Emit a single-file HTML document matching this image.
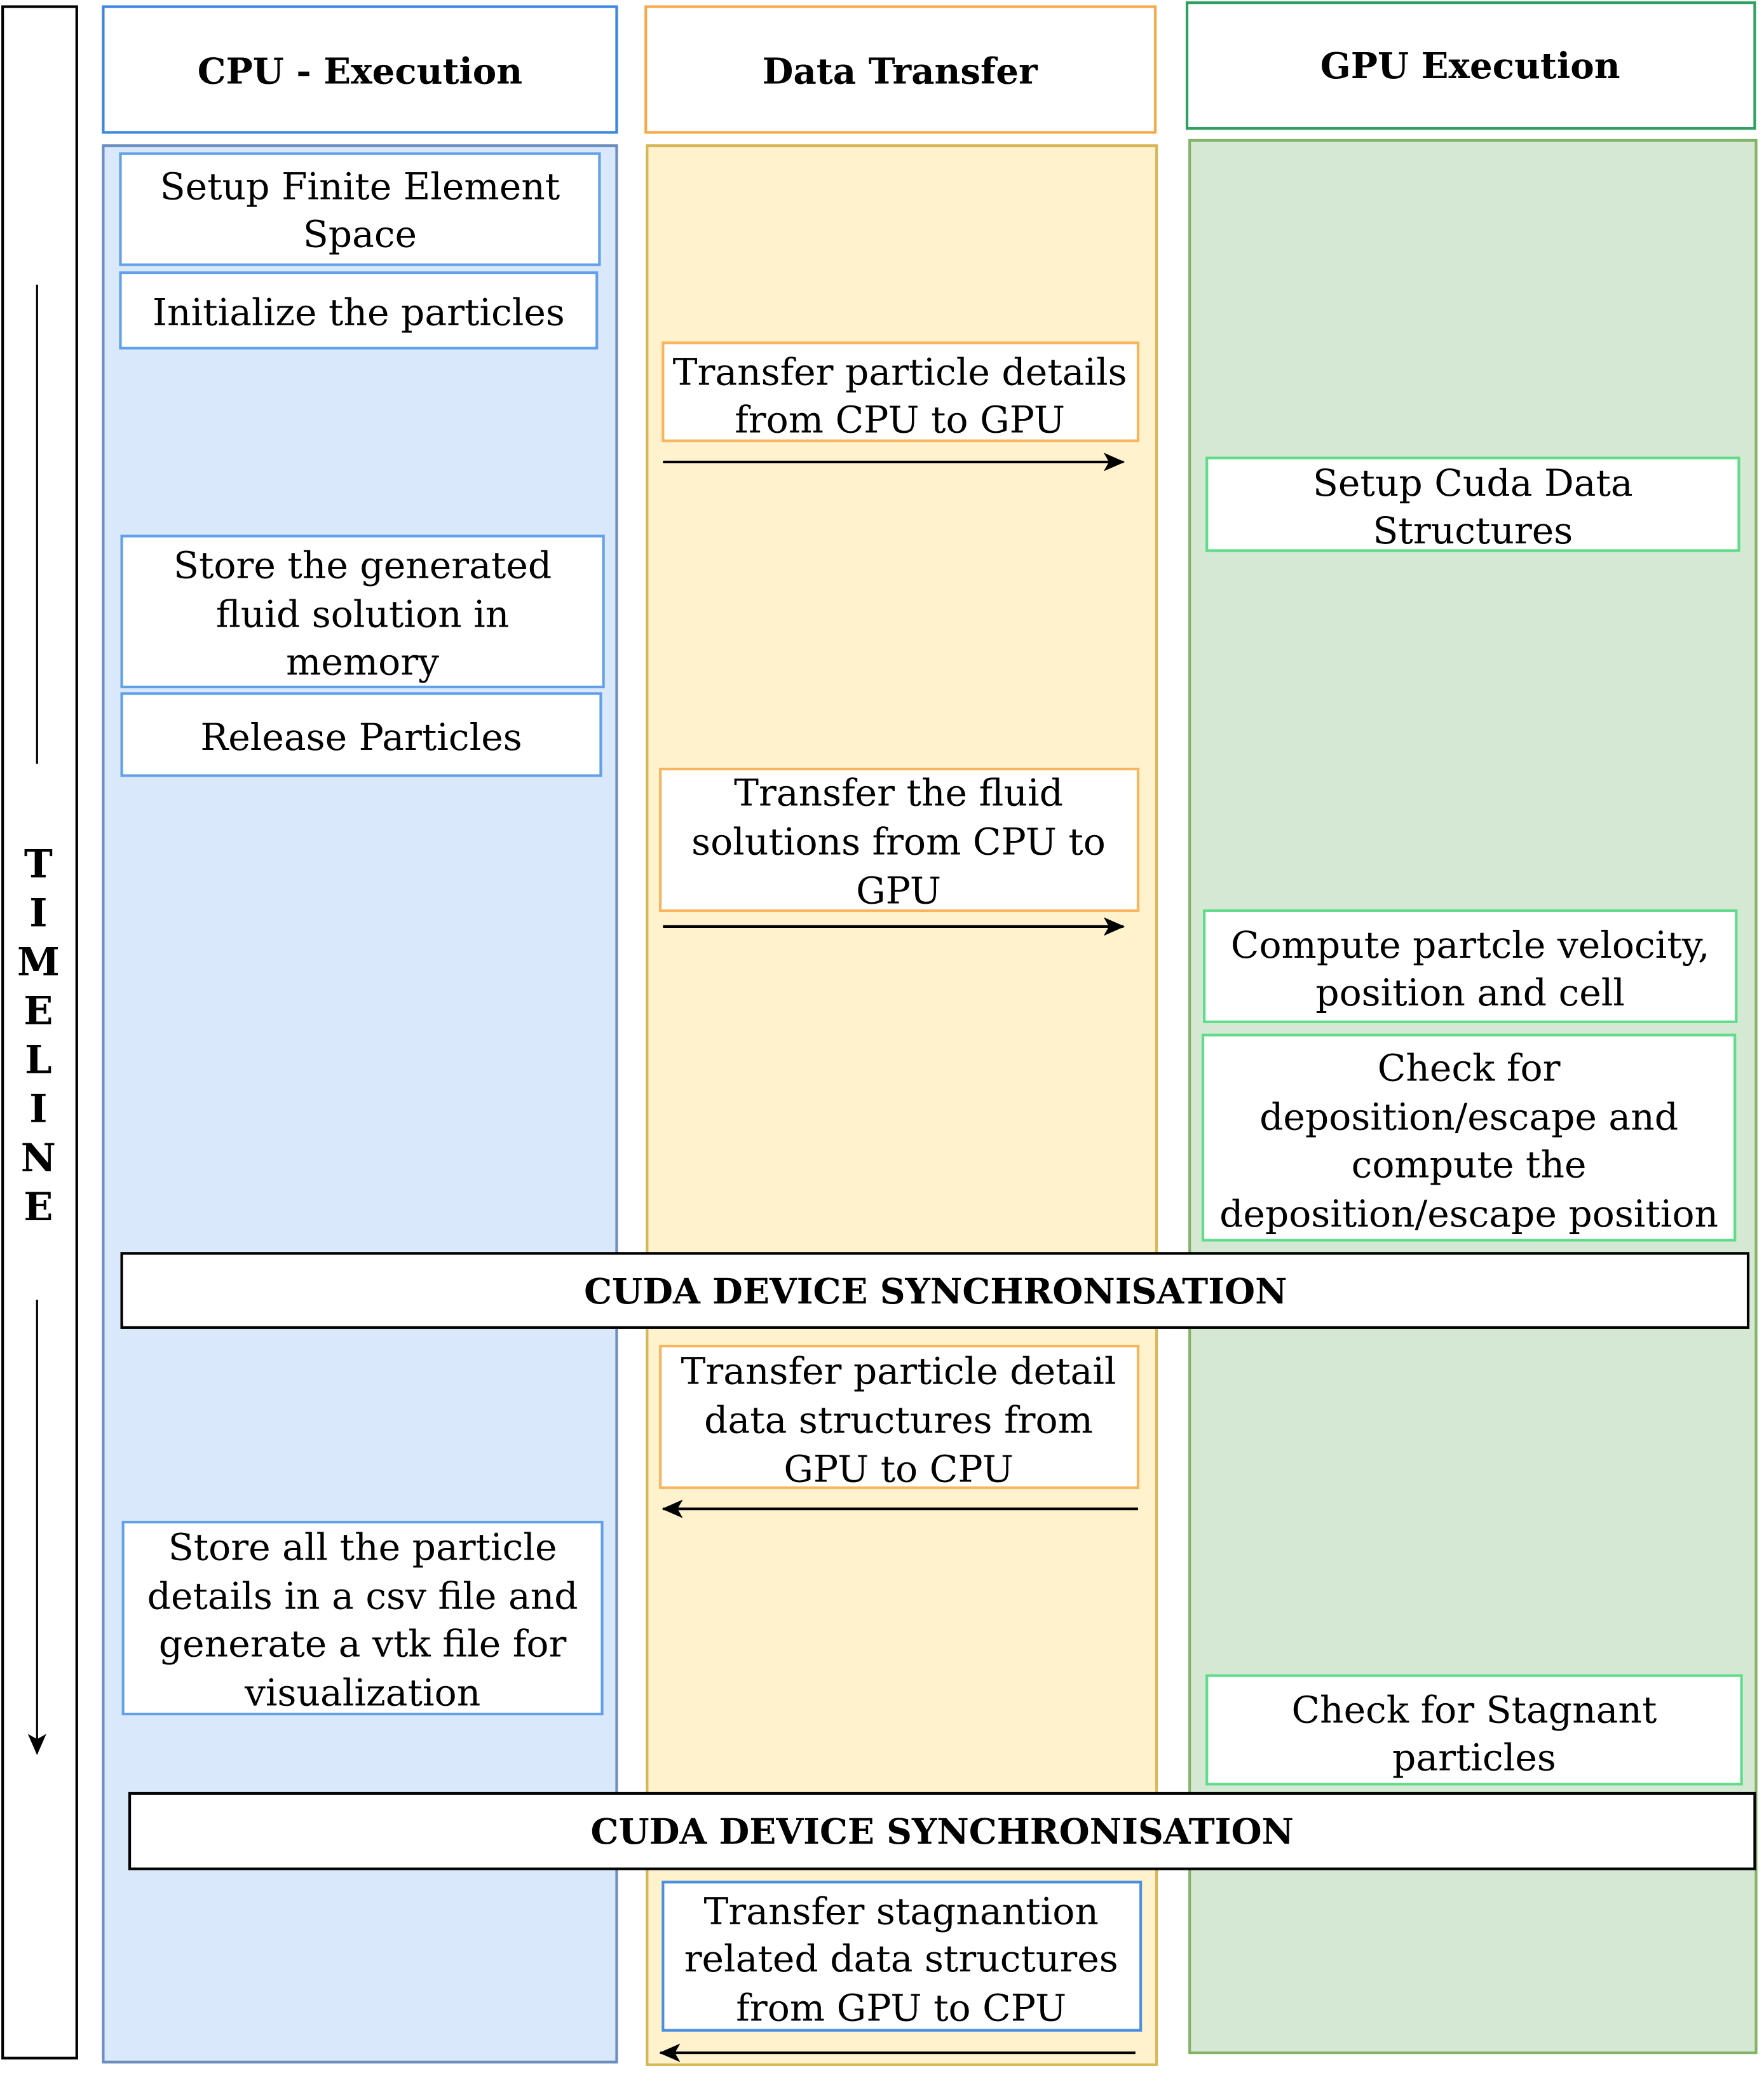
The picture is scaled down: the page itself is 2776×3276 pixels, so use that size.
<!DOCTYPE html>
<html><head><meta charset="utf-8">
<style>
html,body{margin:0;padding:0;background:#fff;}
svg{display:block;}
text{font-family:"DejaVu Serif","Liberation Serif",serif;fill:#000;}
.t{font-size:28px;text-anchor:middle;dominant-baseline:central;}
.h{font-size:27px;font-weight:bold;text-anchor:middle;dominant-baseline:central;}
.s{font-size:26.5px;font-weight:bold;text-anchor:middle;dominant-baseline:central;}
.tl{font-size:29px;font-weight:bold;text-anchor:middle;dominant-baseline:central;}
</style></head><body>
<svg width="2776" height="3276" viewBox="0 0 1333 1573" xmlns="http://www.w3.org/2000/svg">
<defs>
<marker id="ah" markerWidth="16" markerHeight="14" refX="15" refY="7" orient="auto" markerUnits="userSpaceOnUse">
<path d="M0,0 L16,7 L0,14 L4,7 z" fill="#000"/>
</marker>
</defs>
<rect x="0" y="0" width="1333" height="1573" fill="#fff"/>
<rect x="2" y="5" width="56" height="1550" fill="#fff" stroke="#000" stroke-width="2"/>
<line x1="28" y1="215" x2="28" y2="577" stroke="#000" stroke-width="1.5"/>
<text class="tl" x="29" y="653">T</text><text class="tl" x="29" y="690">I</text>
<text class="tl" x="29" y="727">M</text><text class="tl" x="29" y="764">E</text>
<text class="tl" x="29" y="801">L</text><text class="tl" x="29" y="838">I</text>
<text class="tl" x="29" y="875">N</text><text class="tl" x="29" y="912">E</text>
<line x1="28" y1="982" x2="28" y2="1325" stroke="#000" stroke-width="1.5" marker-end="url(#ah)"/>
<rect x="78" y="5" width="388" height="95" fill="#fff" stroke="#3d85e0" stroke-width="2"/>
<text class="h" x="272" y="54">CPU - Execution</text>
<rect x="488" y="5" width="385" height="95" fill="#fff" stroke="#f7a94a" stroke-width="2"/>
<text class="h" x="680" y="54">Data Transfer</text>
<rect x="897" y="2" width="429" height="95" fill="#fff" stroke="#2fa05f" stroke-width="2"/>
<text class="h" x="1111" y="50">GPU Execution</text>
<rect x="78" y="110" width="388" height="1448" fill="#dae8fc" stroke="#6c8ebf" stroke-width="2"/>
<rect x="489" y="110" width="385" height="1450" fill="#fff2cc" stroke="#d6b656" stroke-width="2"/>
<rect x="899" y="106" width="428" height="1445" fill="#d5e8d4" stroke="#82b366" stroke-width="2"/>
<g fill="#fff" stroke="#62a0ea" stroke-width="2">
<rect x="91" y="116" width="362" height="84"/>
<rect x="91" y="206" width="360" height="57"/>
<rect x="92" y="405" width="364" height="114"/>
<rect x="92" y="524" width="362" height="62"/>
<rect x="93" y="1150" width="362" height="145"/>
</g>
<text class="t" x="272" y="141">Setup Finite Element</text>
<text class="t" x="272" y="177">Space</text>
<text class="t" x="271" y="236">Initialize the particles</text>
<text class="t" x="274" y="427">Store the generated</text>
<text class="t" x="274" y="464">fluid solution in</text>
<text class="t" x="274" y="500">memory</text>
<text class="t" x="273" y="557">Release Particles</text>
<text class="t" x="274" y="1169">Store all the particle</text>
<text class="t" x="274" y="1206">details in a csv file and</text>
<text class="t" x="274" y="1242">generate a vtk file for</text>
<text class="t" x="274" y="1279">visualization</text>
<g fill="#fff" stroke="#f9b45e" stroke-width="2">
<rect x="501" y="259" width="359" height="74"/>
<rect x="499" y="581" width="361" height="107"/>
<rect x="499" y="1017" width="361" height="107"/>
</g>
<rect x="501" y="1422" width="361" height="112" fill="#fff" stroke="#4a90e2" stroke-width="2"/>
<text class="t" x="680" y="281">Transfer particle details</text>
<text class="t" x="680" y="317">from CPU to GPU</text>
<line x1="501" y1="349" x2="849" y2="349" stroke="#000" stroke-width="2" marker-end="url(#ah)"/>
<text class="t" x="679" y="599">Transfer the fluid</text>
<text class="t" x="679" y="636">solutions from CPU to</text>
<text class="t" x="679" y="673">GPU</text>
<line x1="501" y1="700" x2="849" y2="700" stroke="#000" stroke-width="2" marker-end="url(#ah)"/>
<text class="t" x="679" y="1036">Transfer particle detail</text>
<text class="t" x="679" y="1073">data structures from</text>
<text class="t" x="679" y="1110">GPU to CPU</text>
<line x1="860" y1="1140" x2="501" y2="1140" stroke="#000" stroke-width="2" marker-end="url(#ah)"/>
<text class="t" x="681" y="1444">Transfer stagnantion</text>
<text class="t" x="681" y="1480">related data structures</text>
<text class="t" x="681" y="1517">from GPU to CPU</text>
<line x1="858" y1="1551" x2="499" y2="1551" stroke="#000" stroke-width="2" marker-end="url(#ah)"/>
<g fill="#fff" stroke="#5fdc8a" stroke-width="2">
<rect x="912" y="346" width="402" height="70"/>
<rect x="910" y="688" width="402" height="84"/>
<rect x="909" y="782" width="402" height="155"/>
<rect x="912" y="1266" width="404" height="82"/>
</g>
<text class="t" x="1113" y="365">Setup Cuda Data</text>
<text class="t" x="1113" y="401">Structures</text>
<text class="t" x="1111" y="714">Compute partcle velocity,</text>
<text class="t" x="1111" y="750">position and cell</text>
<text class="t" x="1110" y="807">Check for</text>
<text class="t" x="1110" y="844">deposition/escape and</text>
<text class="t" x="1110" y="880">compute the</text>
<text class="t" x="1110" y="917">deposition/escape position</text>
<text class="t" x="1114" y="1292">Check for Stagnant</text>
<text class="t" x="1114" y="1328">particles</text>
<rect x="92" y="947" width="1229" height="56" fill="#fff" stroke="#000" stroke-width="2"/>
<text class="s" x="707" y="976">CUDA DEVICE SYNCHRONISATION</text>
<rect x="98" y="1355" width="1228" height="57" fill="#fff" stroke="#000" stroke-width="2"/>
<text class="s" x="712" y="1384">CUDA DEVICE SYNCHRONISATION</text>
</svg>
</body></html>
